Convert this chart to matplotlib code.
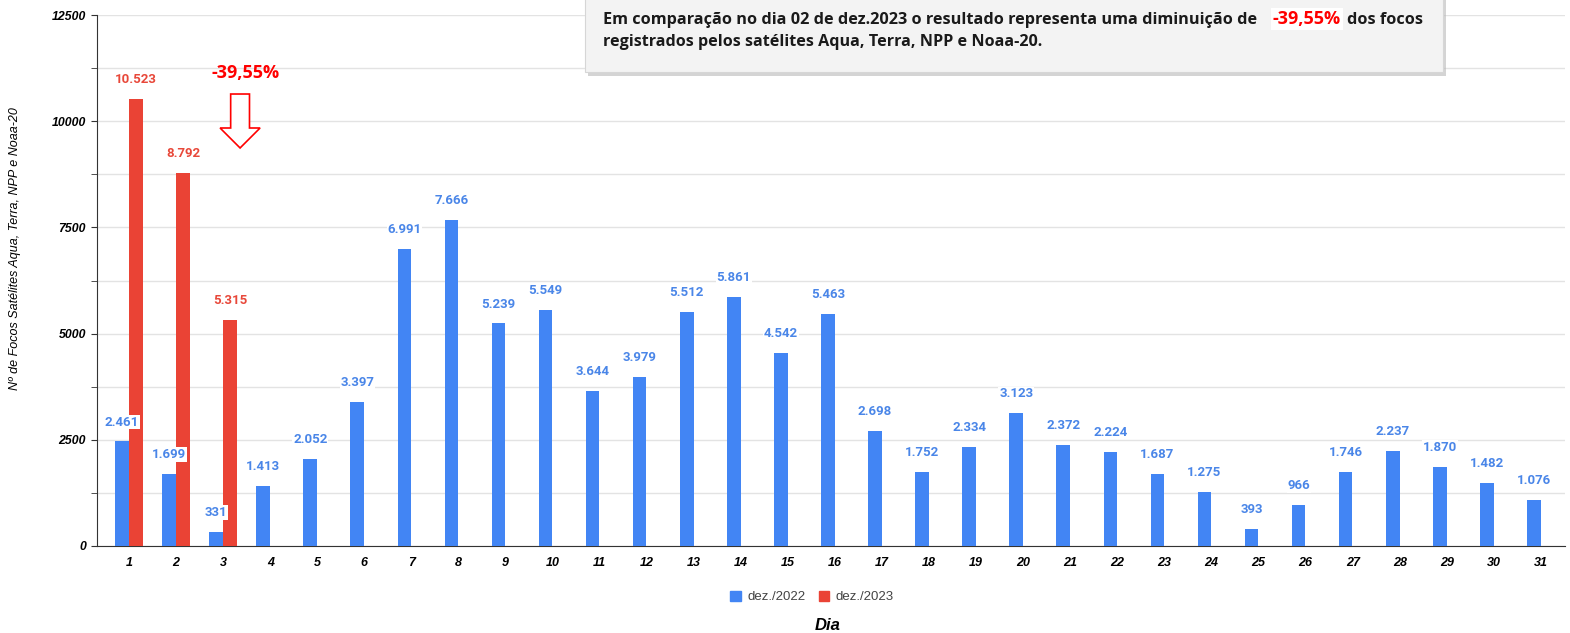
import numpy as np
import matplotlib.pyplot as plt
from matplotlib.patches import Polygon, Rectangle, Patch
from matplotlib.ticker import MultipleLocator

# valores (focos por dia)
dias = list(range(1, 32))
focos_2022 = [2461, 1699, 331, 1413, 2052, 3397, 6991, 7666, 5239, 5549,
              3644, 3979, 5512, 5861, 4542, 5463, 2698, 1752, 2334, 3123,
              2372, 2224, 1687, 1275, 393, 966, 1746, 2237, 1870, 1482, 1076]
dias_2023 = [1, 2, 3]
focos_2023 = [10523, 8792, 5315]

serie_2022 = 'dez./2022'
serie_2023 = 'dez./2023'
azul = '#4285f4'
vermelho = '#ea4335'

W, H = 1570, 633
fig = plt.figure(figsize=(W / 100, H / 100), dpi=100)
ax = fig.add_axes([97 / W, 1 - 546 / H, (1565 - 97) / W, (546 - 15) / H])

def fmt(v):
    return f'{v:,}'.replace(',', '.')

larg = 0.29
x22 = np.array(dias) - 0.15
x23 = np.array(dias_2023) + 0.15
ax.bar(x22, focos_2022, width=larg, color=azul, zorder=3)
ax.bar(x23, focos_2023, width=larg, color=vermelho, zorder=3)

for x, v in zip(x22, focos_2022):
    ax.annotate(fmt(v), (x, v), xytext=(0, 14), textcoords='offset points',
                ha='center', va='center', fontsize=9.5, fontweight='bold',
                color='#4a86e8', family='Roboto', zorder=5,
                bbox=dict(boxstyle='square,pad=0.05', fc='white', ec='none'))
for x, v in zip(x23, focos_2023):
    ax.annotate(fmt(v), (x, v), xytext=(0, 14), textcoords='offset points',
                ha='center', va='center', fontsize=9.5, fontweight='bold',
                color='#e8483a', family='Roboto', zorder=5)

ax.set_xlim(0.32, 31.51)
ax.set_ylim(0, 12500)
ax.set_xticks(dias)
ax.set_xticklabels([str(d) for d in dias], fontsize=9, fontweight='bold',
                   fontstyle='italic', family='Liberation Sans')
ax.yaxis.set_minor_locator(MultipleLocator(1250))
ax.set_yticks([0, 2500, 5000, 7500, 10000, 12500])
ax.set_yticklabels(['0', '2500', '5000', '7500', '10000', '12500'], fontsize=8.8,
                   fontweight='bold', fontstyle='italic', family='Liberation Sans')
ax.tick_params(axis='x', length=0, pad=8)
ax.tick_params(axis='y', which='both', length=4, color='#333333', pad=4)
ax.grid(axis='y', which='both', color='#e3e3e3', lw=1, zorder=0)
for s in ['top', 'right']:
    ax.spines[s].set_visible(False)
ax.spines['left'].set_color('#333333')
ax.spines['bottom'].set_color('#333333')

ax.set_ylabel('Nº de Focos Satélites Aqua, Terra, NPP e Noaa-20', fontsize=9,
              fontstyle='italic', family='Liberation Sans')
ax.yaxis.set_label_coords(-76 / (1565 - 97), 0.56)

# seta vazada e percentual
cx = 3.36
poly = [(cx - 0.2, 10640), (cx + 0.2, 10640), (cx + 0.2, 9840), (cx + 0.425, 9840),
        (cx, 9370), (cx - 0.425, 9840), (cx - 0.2, 9840)]
ax.add_patch(Polygon(poly, closed=True, fc='white', ec='red', lw=1.2, zorder=6))
ax.text(3.47, 11130, '-39,55%', color='red', fontsize=13, fontweight='bold',
        family='Open Sans', ha='center', va='center', zorder=6)

# caixa de comentário
def fx(px):
    return px / W

def fy(py):
    return 1 - py / H

fig.patches.append(Rectangle((fx(588), fy(76)), fx(1446) - fx(588), fy(-5) - fy(76),
                             transform=fig.transFigure, fc='#b8b8b8', ec='none',
                             alpha=0.6, zorder=9))
fig.patches.append(Rectangle((fx(585), fy(72)), fx(1443) - fx(585), fy(-5) - fy(72),
                             transform=fig.transFigure, fc='#f3f3f3', ec='#d6d6d6',
                             lw=0.8, zorder=10))
fig.text(fx(603), fy(20), 'Em comparação no dia 02 de dez.2023 o resultado representa uma diminuição de',
         fontsize=11.7, fontweight='bold', family='Open Sans', color='#1a1a1a',
         ha='left', va='center', zorder=11)
fig.text(fx(1307), fy(19), '-39,55%', fontsize=13, fontweight='bold', family='Open Sans',
         color='red', ha='center', va='center', zorder=12,
         bbox=dict(boxstyle='square,pad=0.1', fc='white', ec='none'))
fig.text(fx(1423), fy(20), 'dos focos', fontsize=11.7, fontweight='bold', family='Open Sans',
         color='#1a1a1a', ha='right', va='center', zorder=11)
fig.text(fx(603), fy(42), 'registrados pelos satélites Aqua, Terra, NPP e Noaa-20.',
         fontsize=11.6, fontweight='bold', family='Open Sans', color='#1a1a1a',
         ha='left', va='center', zorder=11)

# legenda e rótulo do eixo x
handles = [Patch(color=azul, label=serie_2022), Patch(color=vermelho, label=serie_2023)]
leg = fig.legend(handles=handles, loc='center', bbox_to_anchor=(fx(812), fy(597)), ncol=2,
                 frameon=False, handlelength=0.8, handleheight=0.8,
                 handletextpad=0.5, columnspacing=1.0,
                 prop={'family': 'Liberation Sans', 'size': 9.5})
for t in leg.get_texts():
    t.set_color('#444444')
fig.text(fx(828), fy(625), 'Dia', fontsize=12, fontweight='bold', fontstyle='italic',
         family='Liberation Sans', ha='center', va='center')

fig.savefig('out.png', dpi=100)
